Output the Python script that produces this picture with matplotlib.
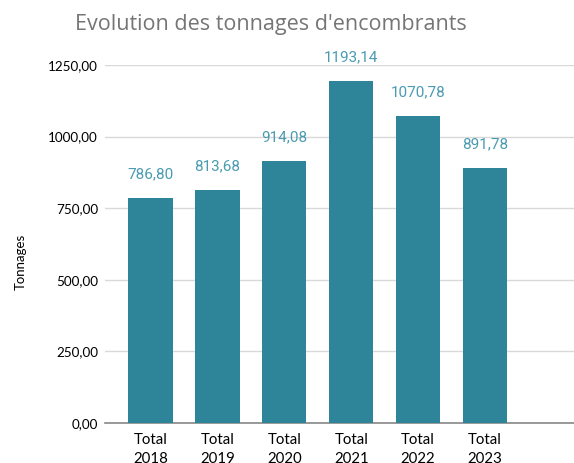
import matplotlib.pyplot as plt
import numpy as np

categories = ['Total\n2018', 'Total\n2019', 'Total\n2020', 'Total\n2021', 'Total\n2022', 'Total\n2023']
tonnages = [786.80, 813.68, 914.08, 1193.14, 1070.78, 891.78]
y_ticks = [0, 250, 500, 750, 1000, 1250]


def fr(v):
    return f'{v:.2f}'.replace('.', ',')


fig = plt.figure(figsize=(5.74, 4.63), dpi=100)
ax = fig.add_axes([0.183, 0.0864, 0.817, 0.7732])

x = np.arange(len(categories))
ax.bar(x, tonnages, width=0.66, color='#2e8499', zorder=3)

for xi, v in zip(x, tonnages):
    ax.annotate(fr(v), (xi, v), xytext=(0, 12), textcoords='offset points',
                ha='center', va='bottom', fontsize=11, color='#4a9bb1',
                family='Roboto', annotation_clip=False)

ax.set_xlim(-0.68, 6.33)
ax.set_ylim(0, 1250)
ax.set_yticks(y_ticks)
ax.set_yticklabels([fr(t) for t in y_ticks], family='Lato', fontsize=9.7)
ax.set_xticks(x)
ax.set_xticklabels(categories, family='Lato', fontsize=10.8, linespacing=1.4)
ax.tick_params(axis='y', length=0, pad=5)
ax.tick_params(axis='x', length=0, pad=7.5)

ax.grid(axis='y', color='#d9d9d9', linewidth=1, zorder=0)
for s in ['top', 'right', 'left']:
    ax.spines[s].set_visible(False)
ax.spines['bottom'].set_color('#888888')
ax.spines['bottom'].set_linewidth(1.2)

ax.set_ylabel('Tonnages', family='Lato', fontsize=9.5)
ax.yaxis.set_label_coords(-0.166, 0.45)
fig.text(0.472, 0.948, "Evolution des tonnages d'encombrants", ha='center', va='center',
         fontsize=15.5, color='#757575', family='Open Sans')

fig.savefig('out.png', dpi=100)
